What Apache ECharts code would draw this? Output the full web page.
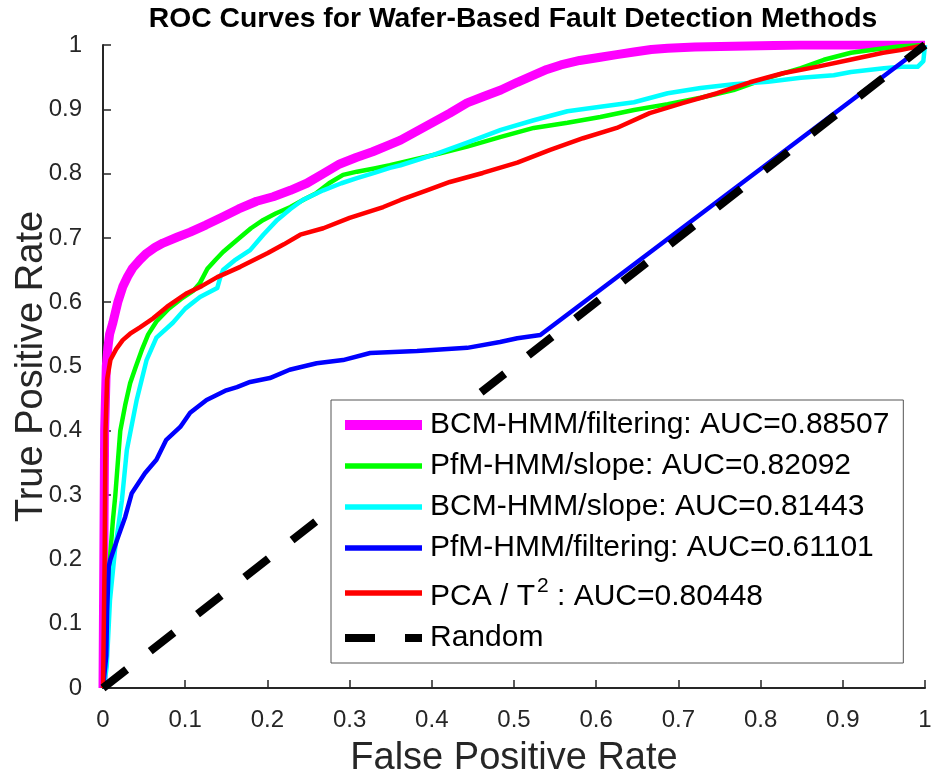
<!DOCTYPE html>
<html>
<head>
<meta charset="utf-8">
<script src="https://cdn.jsdelivr.net/npm/echarts@6/dist/echarts.min.js"></script>
<style>
html,body{margin:0;padding:0;background:#fff;}
#chart{width:933px;height:776px;}
</style>
</head>
<body>
<div id="chart"></div>
<script>
// ---- data (False Positive Rate, True Positive Rate) ----
const titleText = 'ROC Curves for Wafer-Based Fault Detection Methods';
const xName = 'False Positive Rate';
const yName = 'True Positive Rate';

const seriesNames = [
  'BCM-HMM/filtering: AUC=0.88507',
  'PfM-HMM/slope: AUC=0.82092',
  'BCM-HMM/slope: AUC=0.81443',
  'PfM-HMM/filtering: AUC=0.61101',
  'PCA / T2 : AUC=0.80448',
  'Random'
];

const bcmFiltering = [[0,0],[0.001,0.2],[0.002,0.4],[0.004,0.5],[0.006,0.53],[0.008,0.55],[0.012,0.568],[0.018,0.600],[0.024,0.624],[0.030,0.640],[0.036,0.653],[0.045,0.666],[0.053,0.676],[0.063,0.685],[0.073,0.692],[0.090,0.701],[0.106,0.709],[0.125,0.720],[0.146,0.733],[0.165,0.745],[0.187,0.757],[0.207,0.764],[0.228,0.774],[0.248,0.785],[0.268,0.800],[0.288,0.815],[0.308,0.825],[0.328,0.834],[0.349,0.845],[0.362,0.852],[0.382,0.866],[0.402,0.880],[0.422,0.894],[0.443,0.910],[0.463,0.920],[0.484,0.930],[0.504,0.942],[0.524,0.953],[0.540,0.962],[0.557,0.969],[0.580,0.976],[0.605,0.981],[0.625,0.985],[0.646,0.989],[0.667,0.993],[0.687,0.995],[0.720,0.997],[0.767,0.998],[0.800,0.999],[0.849,1.0],[1,1]];

const pfmSlope = [[0,0],[0.003,0.06],[0.006,0.15],[0.009,0.21],[0.012,0.26],[0.015,0.30],[0.018,0.35],[0.021,0.40],[0.027,0.44],[0.033,0.474],[0.040,0.50],[0.047,0.525],[0.055,0.55],[0.065,0.57],[0.080,0.59],[0.095,0.605],[0.110,0.618],[0.118,0.630],[0.127,0.652],[0.137,0.666],[0.146,0.678],[0.157,0.690],[0.167,0.701],[0.180,0.715],[0.195,0.728],[0.210,0.738],[0.228,0.748],[0.245,0.760],[0.260,0.770],[0.275,0.785],[0.292,0.798],[0.309,0.803],[0.330,0.808],[0.349,0.813],[0.362,0.817],[0.402,0.829],[0.443,0.842],[0.484,0.857],[0.524,0.871],[0.565,0.879],[0.605,0.888],[0.646,0.899],[0.687,0.908],[0.727,0.918],[0.767,0.930],[0.809,0.949],[0.849,0.964],[0.877,0.977],[0.910,0.988],[0.950,0.995],[0.971,0.998],[1,1]];

const bcmSlope = [[0,0],[0.002,0.01],[0.0045,0.033],[0.0085,0.137],[0.0146,0.215],[0.023,0.292],[0.029,0.37],[0.041,0.448],[0.053,0.51],[0.065,0.545],[0.085,0.568],[0.100,0.590],[0.118,0.608],[0.139,0.622],[0.143,0.640],[0.146,0.650],[0.160,0.665],[0.179,0.681],[0.195,0.705],[0.212,0.728],[0.228,0.745],[0.243,0.759],[0.268,0.774],[0.290,0.785],[0.309,0.793],[0.330,0.801],[0.349,0.809],[0.362,0.813],[0.402,0.829],[0.443,0.848],[0.484,0.868],[0.524,0.883],[0.565,0.897],[0.605,0.904],[0.646,0.911],[0.687,0.925],[0.727,0.933],[0.767,0.939],[0.809,0.943],[0.849,0.949],[0.889,0.953],[0.910,0.958],[0.950,0.964],[0.971,0.966],[0.991,0.966],[0.998,0.975],[1,1]];

const pfmFiltering = [[0,0],[0.004,0.05],[0.005,0.12],[0.007,0.189],[0.009,0.20],[0.017,0.23],[0.027,0.266],[0.035,0.303],[0.051,0.334],[0.065,0.355],[0.077,0.386],[0.094,0.406],[0.106,0.428],[0.126,0.448],[0.150,0.463],[0.163,0.468],[0.179,0.476],[0.203,0.482],[0.227,0.495],[0.260,0.505],[0.292,0.510],[0.325,0.521],[0.382,0.524],[0.443,0.529],[0.483,0.538],[0.504,0.544],[0.532,0.549],[1,1]];

const pcaT2 = [[0,0],[0.002,0.2],[0.003,0.4],[0.005,0.48],[0.009,0.51],[0.016,0.527],[0.024,0.541],[0.033,0.551],[0.045,0.561],[0.061,0.575],[0.078,0.593],[0.102,0.614],[0.120,0.625],[0.139,0.639],[0.167,0.655],[0.200,0.676],[0.220,0.690],[0.240,0.705],[0.268,0.715],[0.300,0.731],[0.341,0.748],[0.362,0.759],[0.394,0.774],[0.422,0.787],[0.462,0.801],[0.504,0.817],[0.544,0.837],[0.584,0.855],[0.625,0.871],[0.665,0.894],[0.706,0.910],[0.747,0.925],[0.787,0.942],[0.827,0.956],[0.868,0.966],[0.909,0.977],[0.949,0.988],[0.970,0.992],[1,1]];

const randomLine = [[0,0],[1,1]];

const seriesData = [bcmFiltering, pfmSlope, bcmSlope, pfmFiltering, pcaT2, randomLine];
const seriesColors = ['#ff00ff', '#00ff00', '#00ffff', '#0000ff', '#ff0000', '#000000'];
const seriesWidths = [9, 4.5, 4.5, 4.5, 4.5, 8];

// ---- chart ----
const FONT = "'Liberation Sans', Arial, Helvetica, sans-serif";
const chart = echarts.init(document.getElementById('chart'), null, {renderer: 'canvas'});

const dashPattern = [30, 30];

const series = seriesData.map((d, i) => ({
  name: seriesNames[i],
  type: 'line',
  data: d,
  symbol: 'none',
  showSymbol: false,
  animation: false,
  lineStyle: {
    color: seriesColors[i],
    width: seriesWidths[i],
    type: i === 5 ? dashPattern : 'solid',
    cap: 'butt',
    join: 'round'
  },
  itemStyle: {color: seriesColors[i]},
  emphasis: {disabled: true}
}));

const legendWidths = [10, 5.5, 5.5, 5.5, 5.5, 8];

chart.setOption({
  animation: false,
  backgroundColor: '#ffffff',
  title: {
    text: titleText,
    left: 513,
    textAlign: 'center',
    top: 5,
    padding: 0,
    textStyle: {fontFamily: FONT, fontSize: 28.3, fontWeight: 'bold', color: '#000'}
  },
  grid: {left: 103, right: 8, top: 45, bottom: 88, containLabel: false, outerBoundsMode: 'none'},
  xAxis: {
    type: 'value', min: 0, max: 1, interval: 0.1,
    name: xName, nameLocation: 'middle', nameGap: 52, nameMoveOverlap: false,
    nameTextStyle: {fontFamily: FONT, fontSize: 38, color: '#262626'},
    axisLine: {show: true, onZero: false, lineStyle: {color: '#262626', width: 2}},
    axisTick: {show: true, inside: true, length: 8, lineStyle: {color: '#262626', width: 1.5}},
    axisLabel: {fontFamily: FONT, fontSize: 24, color: '#262626', margin: 20},
    splitLine: {show: false}
  },
  yAxis: {
    type: 'value', min: 0, max: 1, interval: 0.1,
    name: yName, nameLocation: 'middle', nameGap: 52, nameMoveOverlap: false,
    nameTextStyle: {fontFamily: FONT, fontSize: 38, color: '#262626'},
    axisLine: {show: true, onZero: false, lineStyle: {color: '#262626', width: 2}},
    axisTick: {show: true, inside: true, length: 8, lineStyle: {color: '#262626', width: 1.5}},
    axisLabel: {fontFamily: FONT, fontSize: 24, color: '#262626', margin: 21},
    splitLine: {show: false}
  },
  legend: {
    orient: 'vertical',
    left: 331, top: 400,
    padding: [10, 14, 10, 9],
    itemGap: 11,
    itemWidth: 77,
    itemHeight: 14,
    backgroundColor: '#ffffff',
    borderColor: '#555555',
    borderWidth: 1,
    borderRadius: 0,
    selectedMode: false,
    itemStyle: {opacity: 0},
    data: seriesNames.map((n, i) => ({
      name: n,
      lineStyle: {
        color: seriesColors[i],
        width: legendWidths[i],
        type: i === 5 ? dashPattern : 'solid',
        cap: 'butt'
      }
    })),
    formatter: function (name) {
      if (name === seriesNames[4]) {
        return '{m|PCA / T}{sup|2}{m| : AUC=0.80448}';
      }
      return name;
    },
    textStyle: {
      fontFamily: FONT, fontSize: 30, color: '#000', lineHeight: 30,
      padding: [0, 0, 0, 3],
      rich: {
        m: {fontFamily: FONT, fontSize: 30, color: '#000', lineHeight: 30, verticalAlign: 'bottom'},
        sup: {fontFamily: FONT, fontSize: 21, color: '#000', lineHeight: 38, verticalAlign: 'top', padding: [2, 0, 0, 2]}
      }
    }
  },
  series: series
});
</script>
</body>
</html>
